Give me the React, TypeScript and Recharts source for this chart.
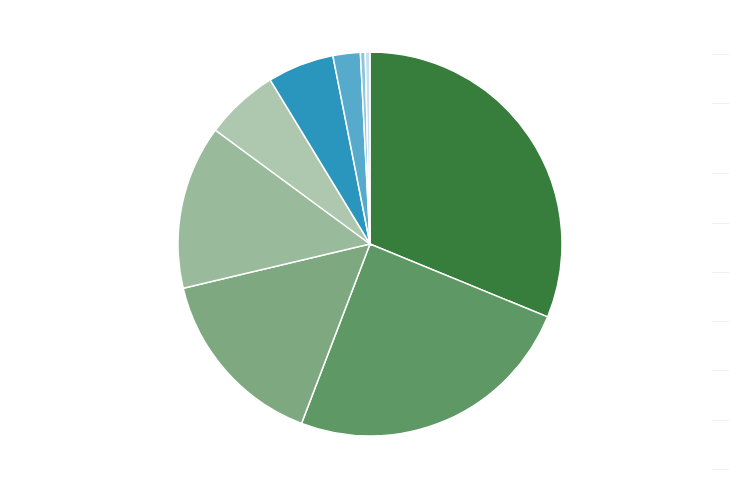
import { Cell, Pie, PieChart } from "recharts";

const categories = ["A", "B", "C", "D", "E", "F", "G", "H", "I"];
const values = [31.2, 24.6, 15.5, 13.8, 6.2, 5.6, 2.3, 0.4, 0.4];
const colors = [
  "#377e3c",
  "#5e9864",
  "#7ea980",
  "#99bb9c",
  "#adc8af",
  "#2a96bd",
  "#56abcc",
  "#8cc4dc",
  "#c4e1ec",
];

// faint separator marks at the right edge (cut-off legend)
const legendRows = [54, 103, 173, 223, 272, 321, 370, 420, 469];

const data = categories.map((name, i) => ({ name, value: values[i] }));

const App = () => {
  return (
    <div
      style={{
        position: "absolute",
        left: 0,
        top: 0,
        width: 745,
        height: 483,
        background: "#fff",
      }}
    >
      <PieChart width={745} height={483} margin={{ top: 0, right: 0, bottom: 0, left: 0 }}>
        <Pie
          data={data}
          dataKey="value"
          nameKey="name"
          cx={370}
          cy={244}
          outerRadius={192}
          startAngle={90}
          endAngle={-270}
          stroke="#fff"
          strokeWidth={1.5}
          isAnimationActive={false}
        >
          {data.map((d, i) => (
            <Cell key={d.name} fill={colors[i]} />
          ))}
        </Pie>
      </PieChart>
      {legendRows.map((y) => (
        <div
          key={y}
          style={{
            position: "absolute",
            left: 712,
            top: y,
            width: 17,
            height: 1,
            background: "#eef2f2",
          }}
        />
      ))}
    </div>
  );
};

export default App;
